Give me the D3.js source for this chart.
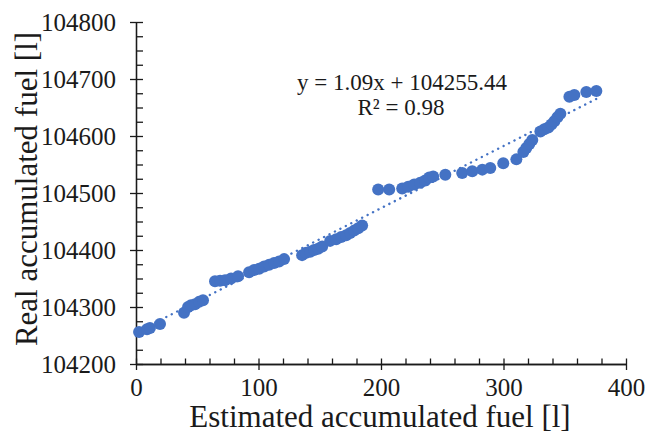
<!DOCTYPE html>
<html>
<head>
<meta charset="utf-8">
<script src="https://cdn.jsdelivr.net/npm/d3@7"></script>
<style>
  body { margin: 0; background: #fff; }
  svg text { font-family: "Liberation Serif", "Times New Roman", serif; fill: #1a1a1a; }
  .axis path, .axis line { stroke: #1a1a1a; stroke-width: 1.3; }
</style>
</head>
<body>
<svg class="chart"></svg>
<script>
// estimated accumulated fuel [l]
const estFuel = [2.5, 9.0, 11.4, 19.6, 39.2, 42.5, 44.9, 48.2, 51.5, 54.7,
  64.5, 68.6, 72.7, 77.6, 83.3, 92.3, 96.4, 100.5, 104.6, 108.7, 112.7, 116.8, 120.9,
  135.6, 138.9, 142.2, 145.4, 148.7, 152.0, 158.5, 163.4, 167.5, 171.6, 174.8, 178.1, 181.4, 184.6,
  197.7, 206.7, 217.3, 222.2, 227.1, 232.0, 236.1, 239.4, 242.6, 252.5,
  266.3, 274.5, 282.7, 289.2, 299.8, 310.5, 316.2, 318.6, 321.1, 323.5,
  330.1, 333.3, 336.6, 339.1, 341.5, 344.0, 346.4, 353.8, 357.8, 367.6, 375.8];
// real accumulated fuel [l]
const realFuel = [104256, 104261, 104263, 104270, 104290, 104300, 104303, 104305, 104309, 104312,
  104345, 104346, 104347, 104350, 104354, 104361, 104365, 104367, 104371, 104374, 104377, 104380, 104384,
  104391, 104395, 104397, 104400, 104402, 104406, 104416, 104419, 104423, 104426, 104430, 104434, 104438, 104443,
  104506, 104506, 104508, 104511, 104515, 104518, 104522, 104527, 104529, 104532,
  104535, 104538, 104541, 104544, 104552, 104559, 104572, 104579, 104586, 104593,
  104608, 104612, 104615, 104620, 104626, 104633, 104639, 104669, 104672, 104677, 104679];

const xMajor = [0, 100, 200, 300, 400];
const yMajor = [104200, 104300, 104400, 104500, 104600, 104700, 104800];

// linear trendline (from the chart label)
const slope = 1.09;
const intercept = 104255.44;
const eqLabel = "y = 1.09x + 104255.44";
const r2Label = "R\u00B2 = 0.98";

const W = 658, H = 434;
const margin = {top: 22, right: 32, bottom: 70, left: 136};

const svg = d3.select(".chart").attr("width", W).attr("height", H);

const x = d3.scaleLinear().domain([0, 400]).range([margin.left, W - margin.right]);
const y = d3.scaleLinear().domain([104200, 104800]).range([H - margin.bottom, margin.top]);

const xMinor = d3.range(0, 401, 20);
const yMinor = d3.range(104200, 104801, 25);

// minor ticks (inside)
svg.append("g").attr("class", "axis")
   .attr("transform", "translate(0," + y.range()[0] + ")")
   .call(d3.axisTop(x).tickValues(xMinor).tickSize(5.5).tickSizeOuter(0).tickFormat(""));
svg.append("g").attr("class", "axis")
   .attr("transform", "translate(" + x.range()[0] + ",0)")
   .call(d3.axisRight(y).tickValues(yMinor).tickSize(7).tickSizeOuter(0).tickFormat(""));

// major ticks + labels
svg.append("g").attr("class", "axis x-axis")
   .attr("transform", "translate(0," + y.range()[0] + ")")
   .call(d3.axisBottom(x).tickValues(xMajor).tickSize(6).tickSizeOuter(0).tickPadding(8).tickFormat(d3.format("d")));
svg.append("g").attr("class", "axis y-axis")
   .attr("transform", "translate(" + x.range()[0] + ",0)")
   .call(d3.axisLeft(y).tickValues(yMajor).tickSize(6).tickSizeOuter(0).tickPadding(14).tickFormat(d3.format("d")));

svg.selectAll(".axis text").style("font-size", "25px");

// trendline
const xExt = d3.extent(estFuel);
svg.append("line")
   .attr("x1", x(xExt[0])).attr("y1", y(slope * xExt[0] + intercept))
   .attr("x2", x(xExt[1] + 3)).attr("y2", y(slope * (xExt[1] + 3) + intercept))
   .attr("stroke", "#4472C4")
   .attr("stroke-width", 2.4)
   .attr("stroke-linecap", "round")
   .attr("stroke-dasharray", "0.1 6");

// points
svg.append("g").selectAll("circle")
   .data(d3.zip(estFuel, realFuel))
  .enter().append("circle")
   .attr("cx", d => x(d[0]))
   .attr("cy", d => y(d[1]))
   .attr("r", 6)
   .attr("fill", "#4472C4");

// equation
svg.append("text")
   .attr("x", 402).attr("y", 90)
   .style("text-anchor", "middle").style("font-size", "23px")
   .text(eqLabel);
svg.append("text")
   .attr("x", 401).attr("y", 115)
   .style("text-anchor", "middle").style("font-size", "23px")
   .text(r2Label);

// axis titles
svg.append("text")
   .attr("x", 380).attr("y", 427)
   .style("text-anchor", "middle").style("font-size", "31px")
   .text("Estimated accumulated fuel [l]");
svg.append("text")
   .attr("transform", "translate(37," + 189 + ") rotate(-90)")
   .style("text-anchor", "middle").style("font-size", "31px")
   .text("Real accumulated fuel [l]");
</script>
</body>
</html>
